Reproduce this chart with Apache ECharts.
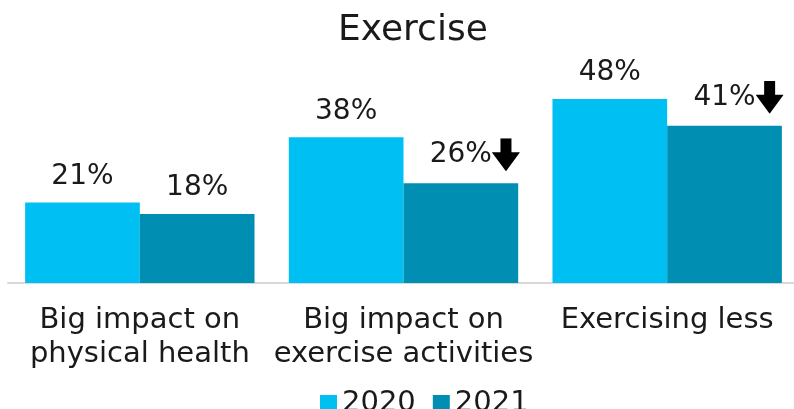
<!DOCTYPE html>
<html>
<head>
<meta charset="utf-8">
<script src="https://cdn.jsdelivr.net/npm/echarts@6/dist/echarts.min.js"></script>
<style>
  html, body { margin: 0; padding: 0; background: #fff; }
  #chart { width: 794px; height: 409px; }
</style>
</head>
<body>
<div id="chart"></div>
<script>
// Survey results: exercise, 2020 vs 2021 (percent)
const categories = ['Big impact on\nphysical health', 'Big impact on\nexercise activities', 'Exercising less'];
const values2020 = [21, 38, 48];
const values2021 = [18, 26, 41];
// 2021 values flagged as a significant decrease
const decreased2021 = [false, true, true];

const FONT = '"DejaVu Sans", sans-serif';
const TEXT = '#1a1a1a';

// Bold down arrow used beside decreased values
const arrowSvg = '<svg xmlns="http://www.w3.org/2000/svg" width="28" height="33" viewBox="0 0 28 33">' +
  '<path d="M8.5 0 H19.5 V14 H28 L14 33 L0 14 H8.5 Z" fill="#000"/></svg>';
const arrowUrl = 'data:image/svg+xml;charset=utf-8,' + encodeURIComponent(arrowSvg);

const valueLabel = {
  show: true,
  position: 'top',
  distance: 12,
  fontFamily: FONT,
  fontSize: 28,
  color: TEXT,
  formatter: p => p.value + '%'
};

const data2021 = values2021.map((v, i) => decreased2021[i] ? {
  value: v,
  label: {
    offset: [14, 0],
    formatter: '{v|' + v + '%}{a|}',
    rich: {
      v: { fontFamily: FONT, fontSize: 28, color: TEXT },
      a: { width: 28, height: 33, backgroundColor: { image: arrowUrl } }
    }
  }
} : v);

const chart = echarts.init(document.getElementById('chart'));
chart.setOption({
  animation: false,
  title: {
    text: 'Exercise',
    left: 333,
    top: 8,
    textStyle: { fontFamily: FONT, fontSize: 36, fontWeight: 'normal', color: TEXT }
  },
  legend: {
    bottom: -9,
    left: 320,
    padding: 0,
    itemWidth: 17,
    itemHeight: 17,
    itemGap: 17,
    icon: 'rect',
    textStyle: { fontFamily: FONT, fontSize: 29, color: TEXT },
    data: ['2020', '2021']
  },
  grid: { left: 8, width: 791, top: 53, bottom: 126, outerBoundsMode: 'none' },
  xAxis: {
    type: 'category',
    data: categories,
    axisTick: { show: false },
    axisLine: { lineStyle: { color: '#d9d9d9', width: 2 } },
    axisLabel: { fontFamily: FONT, fontSize: 29, color: TEXT, margin: 20, lineHeight: 34, interval: 0 }
  },
  yAxis: { type: 'value', min: 0, max: 60, show: false, splitLine: { show: false } },
  series: [
    {
      name: '2020', type: 'bar', data: values2020,
      itemStyle: { color: '#00BFF2' },
      barGap: '0%', barCategoryGap: '13%',
      label: valueLabel
    },
    {
      name: '2021', type: 'bar', data: data2021,
      itemStyle: { color: '#008FB3' },
      barGap: '0%', barCategoryGap: '13%',
      label: valueLabel
    }
  ]
});
</script>
</body>
</html>
